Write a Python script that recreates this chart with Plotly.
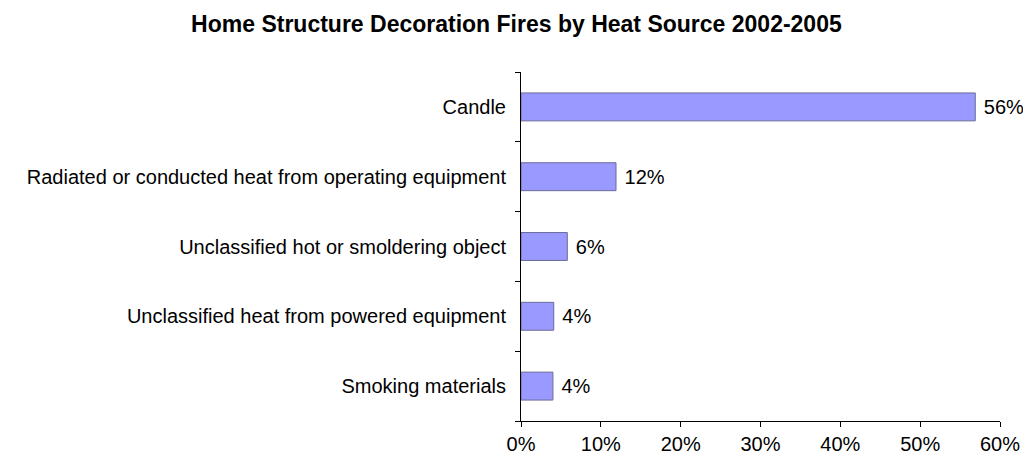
import plotly.graph_objects as go

categories = [
    "Candle",
    "Radiated or conducted heat from operating equipment",
    "Unclassified hot or smoldering object",
    "Unclassified heat from powered equipment",
    "Smoking materials",
]
shares = [56.9, 11.9, 5.8, 4.1, 4.0]
labels = ["56%", "12%", "6%", "4%", "4%"]
x_ticks = [0, 10, 20, 30, 40, 50, 60]

fig = go.Figure()

fig.add_trace(
    go.Bar(
        x=shares,
        y=categories,
        orientation="h",
        text=labels,
        texttemplate=" %{text}",
        textposition="outside",
        textfont=dict(size=20, color="black"),
        cliponaxis=False,
        marker=dict(color="#9999ff", line=dict(color="#6b6b99", width=1)),
    )
)

# the page body adds 8px on the top and left, so size and margins allow for it
fig.update_layout(
    width=1023,
    height=456,
    plot_bgcolor="white",
    paper_bgcolor="white",
    font=dict(family="Liberation Sans, Arial, sans-serif", size=20, color="black"),
    title=dict(
        text="<b>Home Structure Decoration Fires by Heat Source 2002-2005</b>",
        x=0.497,
        xanchor="center",
        y=1 - 16 / 456,
        yanchor="middle",
        font=dict(size=23, color="black"),
    ),
    margin=dict(l=513, r=31, t=64, b=43),
    bargap=0.6,
    showlegend=False,
)

fig.update_xaxes(
    range=[0, 60],
    tickvals=x_ticks,
    ticktext=[f"{v}%" for v in x_ticks],
    showgrid=False,
    zeroline=False,
    showline=True,
    linecolor="black",
    linewidth=1,
    ticks="outside",
    ticklen=5,
    tickcolor="black",
    automargin=False,
)

fig.update_yaxes(
    categoryorder="array",
    categoryarray=categories[::-1],
    showgrid=False,
    showline=True,
    linecolor="black",
    linewidth=1,
    ticks="outside",
    ticklen=5,
    tickcolor="black",
    tickson="boundaries",
    ticklabelstandoff=10,
    automargin=False,
)

fig.write_html("out.html")
